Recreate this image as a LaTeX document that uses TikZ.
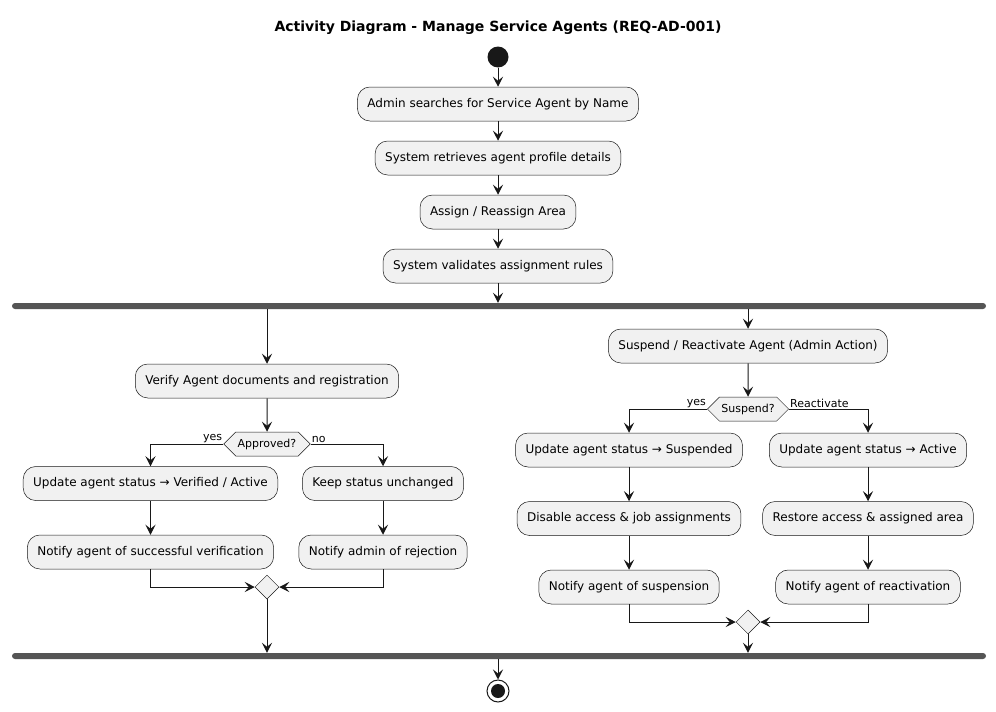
\documentclass[tikz,border=0pt]{standalone}
\usepackage{fontspec}
\setmainfont{DejaVu Sans}
\usetikzlibrary{arrows.meta,shapes.geometric,shapes.symbols}

\definecolor{boxfill}{HTML}{F1F1F1}
\definecolor{linecol}{HTML}{181818}
\definecolor{barcol}{HTML}{555555}

\tikzset{
  activity/.style={draw=linecol, fill=boxfill, line width=0.5pt, rounded corners=12.5pt,
    minimum height=34pt, inner xsep=10pt, font=\fontsize{12}{14}\selectfont},
  decision/.style={draw=linecol, fill=boxfill, line width=0.5pt, shape=signal,
    signal to=west and east, signal pointer angle=90, minimum height=24pt,
    inner xsep=2pt, font=\fontsize{11}{13}\selectfont},
  merge/.style={draw=linecol, fill=boxfill, line width=0.5pt, diamond,
    minimum width=24pt, minimum height=24pt, inner sep=0pt},
  forkbar/.style={fill=barcol, rounded corners=3pt, minimum width=974pt,
    minimum height=6pt, inner sep=0pt},
  guard/.style={font=\fontsize{11}{13}\selectfont, inner sep=1pt},
  arr/.style={draw=linecol, line width=1pt, -{Stealth[length=10pt,width=10pt,inset=4pt]}}
}

\begin{document}
\begin{tikzpicture}[x=1pt,y=-1pt]
\useasboundingbox (0,0) rectangle (996,712);

\node[font=\bfseries\fontsize{14}{16}\selectfont] (title) at (498,28) {Activity Diagram - Manage Service Agents (REQ-AD-001)};

% Main flow
\node[circle, fill=linecol, minimum size=21pt, inner sep=0pt] (start) at (498,57) {};
\node[activity] (search) at (498,104) {Admin searches for Service Agent by Name};
\node[activity] (retrieve) at (498,158) {System retrieves agent profile details};
\node[activity] (assign) at (498,212) {Assign / Reassign Area};
\node[activity] (validate) at (498,266) {System validates assignment rules};
\node[forkbar] (fork) at (499,306) {};

\draw[arr] (start) -- (search);
\draw[arr] (search) -- (retrieve);
\draw[arr] (retrieve) -- (assign);
\draw[arr] (assign) -- (validate);
\draw[arr] (validate.south) -- (validate.south |- fork.north);

% Verification branch
\node[activity] (verify) at (267,381) {Verify Agent documents and registration};
\node[decision] (approved) at (267,444) {Approved?};
\node[activity] (verified) at (150.5,483.5) {Update agent status → Verified / Active};
\node[activity] (notifyok) at (150.5,552) {Notify agent of successful verification};
\node[activity] (unchanged) at (383,483.5) {Keep status unchanged};
\node[activity] (notifyrej) at (383,552) {Notify admin of rejection};
\node[merge] (mergeleft) at (267,587) {};

\node[guard, anchor=south east] at (approved.west) {yes};
\node[guard, anchor=south west] at (approved.east) {no};

\draw[arr] (fork.south -| verify.north) -- (verify);
\draw[arr] (verify) -- (approved);
\draw[arr] (approved.west) -| (verified.north);
\draw[arr] (approved.east) -| (unchanged.north);
\draw[arr] (verified) -- (notifyok);
\draw[arr] (unchanged) -- (notifyrej);
\draw[arr] (notifyok.south) |- (mergeleft.west);
\draw[arr] (notifyrej.south) |- (mergeleft.east);

% Suspension branch
\node[activity] (suspend) at (748,346) {Suspend / Reactivate Agent (Admin Action)};
\node[decision] (suspq) at (748,409) {Suspend?};
\node[activity] (suspended) at (629,450) {Update agent status → Suspended};
\node[activity] (disable) at (629,518.5) {Disable access \& job assignments};
\node[activity] (notifysusp) at (629,587) {Notify agent of suspension};
\node[activity] (active) at (868,450) {Update agent status → Active};
\node[activity] (restore) at (868,518.5) {Restore access \& assigned area};
\node[activity] (notifyreact) at (868,587) {Notify agent of reactivation};
\node[merge] (mergeright) at (748,622) {};

\node[guard, anchor=south east] at (suspq.west) {yes};
\node[guard, anchor=south west] at (suspq.east) {Reactivate};

\draw[arr] (fork.south -| suspend.north) -- (suspend);
\draw[arr] (suspend) -- (suspq);
\draw[arr] (suspq.west) -| (suspended.north);
\draw[arr] (suspq.east) -| (active.north);
\draw[arr] (suspended) -- (disable);
\draw[arr] (disable) -- (notifysusp);
\draw[arr] (active) -- (restore);
\draw[arr] (restore) -- (notifyreact);
\draw[arr] (notifysusp.south) |- (mergeright.west);
\draw[arr] (notifyreact.south) |- (mergeright.east);

% Join and end
\node[forkbar] (join) at (499,656) {};
\draw[arr] (mergeleft.south) -- (mergeleft.south |- join.north);
\draw[arr] (mergeright.south) -- (mergeright.south |- join.north);

\node[circle, draw=linecol, line width=1pt, fill=white, minimum size=22pt, inner sep=0pt] (finish) at (498,691) {};
\fill[linecol] (finish.center) circle (7pt);
\draw[arr] (join.south -| finish.north) -- (finish.north);

\end{tikzpicture}
\end{document}
